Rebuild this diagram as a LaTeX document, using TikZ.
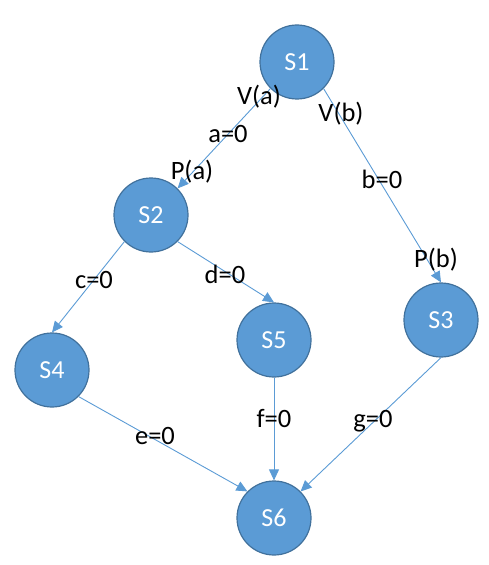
\documentclass[tikz,border=0pt]{standalone}
\usepackage{fontspec}
\setmainfont{Carlito}
\usetikzlibrary{arrows.meta}
\definecolor{nodefill}{HTML}{5B9BD5}
\definecolor{nodeline}{HTML}{41719C}
\definecolor{edgecol}{HTML}{5B9BD5}
\begin{document}
\begin{tikzpicture}[x=1bp,y=-1bp,
  state/.style={circle,fill=nodefill,draw=nodeline,line width=1.2bp,minimum size=74bp,inner sep=0pt,text=white,font=\fontsize{26bp}{30bp}\selectfont},
  lbl/.style={anchor=base,inner sep=0pt,font=\fontsize{26.5bp}{30bp}\selectfont,text=black},
  edge/.style={draw=edgecol,line width=0.9bp,-{Triangle[length=11bp,width=10bp]}}]
\useasboundingbox (0,0) rectangle (489,565);
\node[state] (S1) at (297,62) {S1};
\node[state] (S2) at (151,215) {S2};
\node[state] (S3) at (441,320) {S3};
\node[state] (S4) at (52,370) {S4};
\node[state] (S5) at (274,340) {S5};
\node[state] (S6) at (274,518) {S6};
\draw[edge] (S1.south west) -- (S2.north east);
\draw[edge] (S1.south east) -- (S3.north);
\draw[edge] (S2.south west) -- (S4.north);
\draw[edge] (S2.south east) -- (S5.north);
\draw[edge] (S4.south east) -- (S6.north west);
\draw[edge] (S5.south) -- (S6.north);
\draw[edge] (S3.south) -- (S6.north east);
\node[lbl] (la1) at (259,105) {V(a)};
\node[lbl] (la2) at (228,143) {a=0};
\node[lbl] (la3) at (192,179) {P(a)};
\node[lbl] (lb1) at (341,122) {V(b)};
\node[lbl] (lb2) at (382,188) {b=0};
\node[lbl] (lb3) at (436,267) {P(b)};
\node[lbl] (lc) at (94,288) {c=0};
\node[lbl] (ld) at (225,283) {d=0};
\node[lbl] (le) at (155,444) {e=0};
\node[lbl] (lf) at (274,427) {f=0};
\node[lbl] (lg) at (373,427) {g=0};
\end{tikzpicture}
\end{document}
